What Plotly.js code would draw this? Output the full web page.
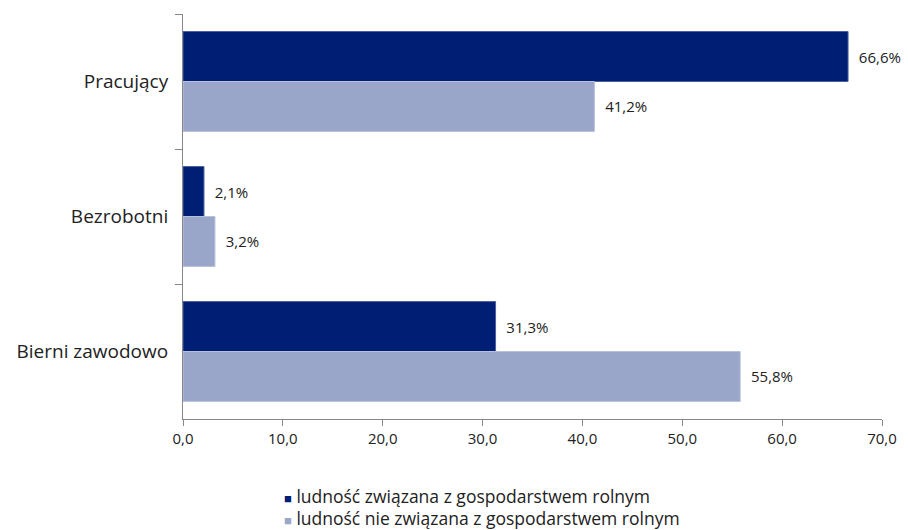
<!DOCTYPE html>
<html>
<head>
<meta charset="utf-8">
<script src="https://cdn.plot.ly/plotly-3.0.1.min.js"></script>
<style>html,body{margin:0;padding:0;background:#fff;}#chart{width:908px;height:530px;}</style>
</head>
<body>
<div id="chart"></div>
<script>
const categories = ["Pracujący", "Bezrobotni", "Bierni zawodowo"];
const seriesNames = ["ludność związana z gospodarstwem rolnym", "ludność nie związana z gospodarstwem rolnym"];
const valuesRural = [66.6, 2.1, 31.3];
const valuesNonRural = [41.2, 3.2, 55.8];
const tickValues = [0, 10, 20, 30, 40, 50, 60, 70];
const colors = ["#001E73", "#99A6C9"];

const fontFam = "'Open Sans', 'Noto Sans', sans-serif";
function fmt(v){ return "  " + v.toFixed(1).replace(".", ",") + "%"; }

const traces = [
  {
    type: "bar", orientation: "h", name: seriesNames[0],
    y: categories, x: valuesRural,
    marker: {color: colors[0], line: {color: "#4a5fa0", width: 1}},
    text: valuesRural.map(fmt), textposition: "outside", cliponaxis: false,
    textfont: {family: fontFam, size: 15, color: "#222"}
  },
  {
    type: "bar", orientation: "h", name: seriesNames[1],
    y: categories, x: valuesNonRural,
    marker: {color: colors[1], line: {color: "#b8c1da", width: 1}},
    text: valuesNonRural.map(fmt), textposition: "outside", cliponaxis: false,
    textfont: {family: fontFam, size: 15, color: "#222"}
  }
];

const legendY = [-0.19, -0.245];
const annotations = seriesNames.map((n, i) => ({
  xref: "paper", yref: "paper", x: 0.142, y: legendY[i],
  xanchor: "left", yanchor: "middle", showarrow: false,
  text: '<span style="color:' + colors[i] + ';font-size:13px">■</span> ' + n,
  font: {family: fontFam, size: 17.5, color: "#222"}
}));

const layout = {
  width: 908, height: 530,
  margin: {l: 183, r: 26, t: 14, b: 111, autoexpand: false},
  paper_bgcolor: "#fff", plot_bgcolor: "#fff",
  font: {family: fontFam, color: "#222"},
  separators: ", ",
  barmode: "group", bargap: 0.26, bargroupgap: 0,
  showlegend: false,
  annotations: annotations,
  xaxis: {
    range: [0, 70], tickvals: tickValues, tickformat: ".1f",
    showgrid: false, zeroline: false,
    showline: true, linecolor: "#888", linewidth: 1,
    ticks: "outside", ticklen: 6, tickcolor: "#888",
    tickfont: {family: fontFam, size: 15, color: "#222"}
  },
  yaxis: {
    type: "category", autorange: "reversed",
    showgrid: false, zeroline: false,
    showline: true, linecolor: "#888", linewidth: 1,
    ticks: "outside", ticklen: 7, tickcolor: "#888", tickson: "boundaries",
    ticklabelstandoff: 10,
    tickfont: {family: fontFam, size: 19, color: "#222"}
  }
};

Plotly.newPlot("chart", traces, layout, {displayModeBar: false, staticPlot: true});
</script>
</body>
</html>
